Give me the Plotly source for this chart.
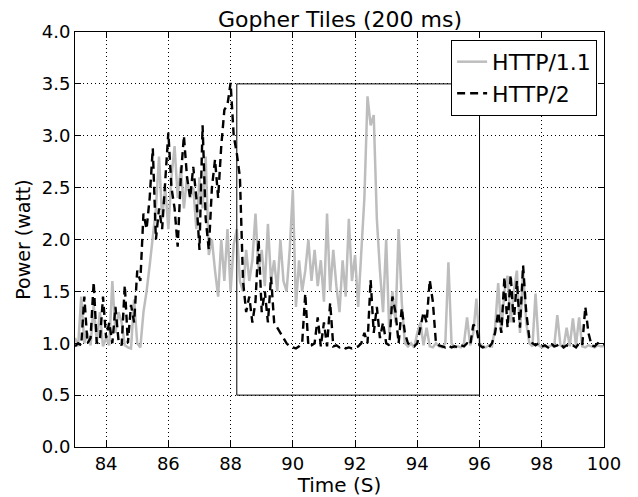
import numpy as np
import plotly.graph_objects as go

# time axis: 83.0 .. 100.0 in 0.1 s steps
time_s = [round(83.0 + 0.1 * i, 1) for i in range(171)]

http11 = [
    1.05, 0.97, 1.45, 1.0, 1.1, 0.98, 1.37, 1.0, 1.3, 0.97,
    1.05, 0.98, 1.6, 1.1, 1.3, 1.2, 0.98, 0.96, 0.95, 1.42,
    1.0, 0.96, 1.3, 1.5, 1.75, 2.0, 2.3, 2.8, 2.2, 2.5,
    2.1, 2.6, 2.9, 2.4, 2.7, 2.3, 2.6, 2.4, 2.5, 2.1,
    2.6, 2.3, 2.8, 1.85, 2.0, 1.7, 1.45, 2.0, 1.6, 2.1,
    1.5, 1.95, 2.1, 1.6, 1.5, 1.9, 1.6, 1.8, 2.25, 1.7,
    1.9, 1.55, 2.15, 1.6, 1.8, 1.5, 2.0, 1.6, 1.5, 1.9,
    2.48, 1.35, 1.8, 1.5, 1.7, 2.0, 1.6, 1.9, 1.55, 1.8,
    1.4, 2.25, 1.5, 1.9, 1.55, 1.3, 1.8, 1.45, 2.2, 1.6,
    1.85, 1.35, 1.9, 2.4, 3.38, 3.1, 3.2, 2.2, 1.7, 1.3,
    2.0, 1.1, 1.5, 1.2, 2.1, 1.4, 1.0, 0.97, 1.0, 0.96,
    1.1, 1.2, 0.98, 1.15, 0.97, 0.96, 1.0, 0.97, 0.96, 1.0,
    1.78, 1.0, 0.96, 0.97, 0.96, 1.0, 1.25, 0.98, 1.1, 1.43,
    1.0, 0.97, 0.96, 0.98, 0.97, 1.15, 1.58, 1.1, 1.5, 1.65,
    1.2, 1.5, 1.7, 1.1, 1.7, 1.2, 1.0, 0.97, 1.48, 0.98,
    0.96, 0.97, 0.96, 0.98, 0.97, 1.27, 0.98, 0.96, 1.15, 0.97,
    1.24, 0.98, 1.25, 0.97, 0.96, 0.98, 0.97, 0.96, 0.98, 0.97,
    0.97,
]

http2 = [
    0.97, 1.0, 0.98, 1.45, 1.0, 1.05, 1.59, 1.0, 1.02, 1.45,
    1.05, 1.2, 1.0, 1.35, 1.02, 0.98, 1.56, 1.0, 1.37, 1.2,
    1.7, 1.6, 2.25, 2.1, 2.4, 2.88, 2.0, 2.3, 2.1, 2.6,
    3.03, 2.5, 2.3, 1.93, 2.6, 3.0, 2.6, 2.4, 2.7, 2.4,
    1.9, 3.1, 2.2, 1.9, 2.5, 2.77, 2.4, 2.9, 3.25, 3.3,
    3.51, 3.0, 2.83, 2.6, 1.6, 1.3, 1.45, 1.2, 1.4, 2.0,
    1.3, 1.5, 1.2, 1.64, 1.2, 1.15, 1.1, 1.05, 1.0, 0.97,
    0.96, 0.95, 0.97, 1.0, 1.48, 0.97, 0.98, 1.0, 1.25, 0.97,
    1.2, 0.97, 1.39, 0.97, 0.98, 0.96, 0.97, 0.95, 0.96, 0.95,
    0.96, 0.97, 1.0, 1.1, 1.0, 1.61, 1.1, 1.35, 1.05, 1.2,
    1.0, 0.98, 1.45, 1.3, 1.0, 1.34, 1.1, 1.0, 0.98, 0.97,
    1.0, 1.15, 1.3, 1.2, 1.61, 1.4, 1.0, 0.98, 0.97, 0.96,
    0.98, 0.96, 0.97, 0.96, 0.98, 0.97, 1.0, 0.98, 1.18, 1.15,
    0.98, 0.96, 0.97, 0.96, 1.0, 1.1, 1.3, 1.1, 1.64, 1.15,
    1.66, 1.2, 1.6, 1.15, 1.75, 1.3, 1.05, 1.0, 0.98, 1.0,
    0.97, 0.98, 0.96, 1.0, 0.97, 0.98, 1.0, 0.96, 0.98, 0.97,
    0.98, 0.96, 1.0, 0.98, 1.35, 1.1, 0.98, 0.97, 1.0, 0.98,
    0.99,
]

x_ticks = [84, 86, 88, 90, 92, 94, 96, 98, 100]
y_ticks = [0.0, 0.5, 1.0, 1.5, 2.0, 2.5, 3.0, 3.5, 4.0]
box_x = [88.2, 96.0]
box_y = [0.5, 3.5]

FONT = "DejaVu Sans, Liberation Sans, sans-serif"

fig = go.Figure()
fig.add_trace(go.Scatter(
    x=time_s, y=http11, mode="lines", name="HTTP/1.1",
    line=dict(color="#bdbdbd", width=2.5),
))
fig.add_trace(go.Scatter(
    x=time_s, y=http2, mode="lines", name="HTTP/2",
    line=dict(color="black", width=2.4, dash="8px,5px"),
))

fig.add_shape(type="rect", xref="x", yref="y",
              x0=box_x[0], x1=box_x[1], y0=box_y[0], y1=box_y[1],
              line=dict(color="black", width=1), layer="above")

axis_common = dict(
    showline=True, linecolor="black", linewidth=1, mirror="allticks",
    ticks="inside", ticklen=6, tickcolor="black",
    showgrid=True, gridcolor="black", gridwidth=0.7, griddash="1px,3px",
    zeroline=False, tickfont=dict(size=18, color="black", family=FONT),
)

fig.update_xaxes(range=[83, 100], tickvals=x_ticks,
                 title=dict(text="Time (S)", font=dict(size=20, color="black", family=FONT), standoff=2),
                 **axis_common)
fig.update_yaxes(range=[0, 4], tickvals=y_ticks, tickformat=".1f",
                 title=dict(text="Power (watt)", font=dict(size=19, color="black", family=FONT), standoff=6),
                 **axis_common)

fig.update_layout(
    width=630, height=489,
    margin=dict(l=67, r=34, t=24, b=50, autoexpand=False),
    paper_bgcolor="white", plot_bgcolor="white",
    font=dict(family=FONT, color="black"),
    title=dict(text="Gopher Tiles (200 ms)", x=0.527, xanchor="center",
               y=0.976, yanchor="middle", font=dict(size=22, color="black", family=FONT)),
    legend=dict(x=0.987, y=0.981, xanchor="right", yanchor="top",
                bordercolor="black", borderwidth=1, bgcolor="white",
                font=dict(size=22, color="black", family=FONT),
                itemwidth=30, tracegroupgap=0),
    showlegend=True,
)

fig.write_html("out.html")
